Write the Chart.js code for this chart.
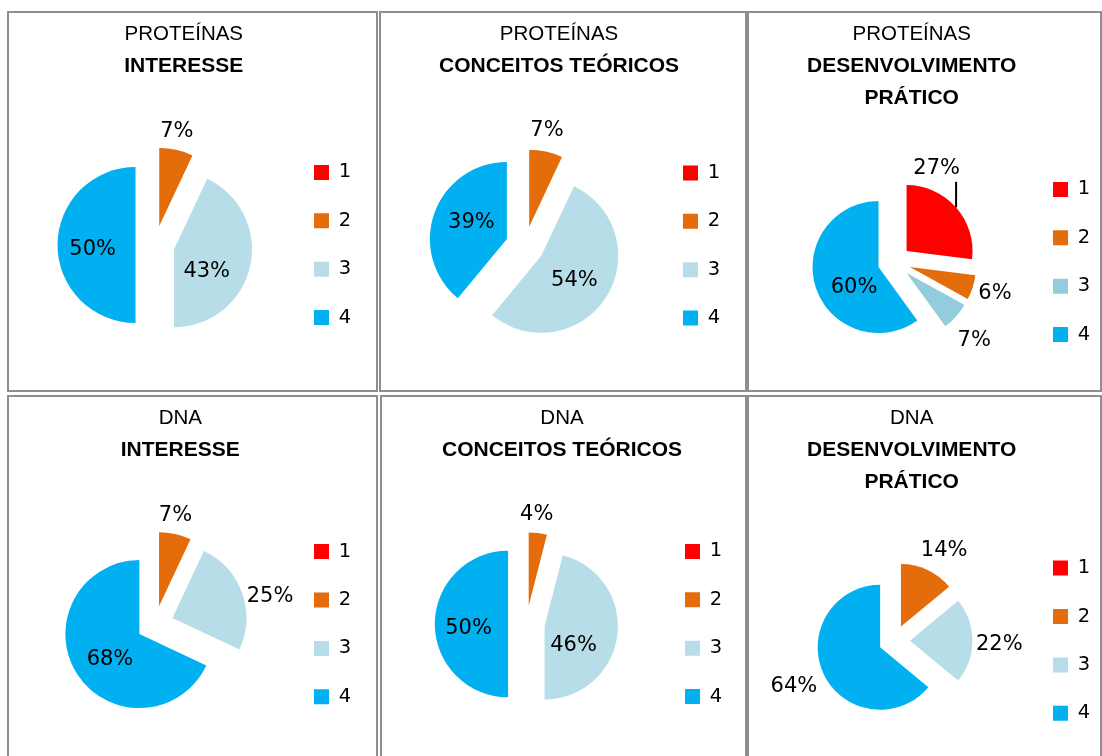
<!DOCTYPE html>
<html>
<head>
<meta charset="utf-8">
<script src="https://cdn.jsdelivr.net/npm/chart.js@4.4.1/dist/chart.umd.min.js"></script>
<style>
  body { margin: 0; width: 1102px; height: 756px; overflow: hidden; background: #fff; }
  .panel { position: absolute; box-sizing: border-box; border: 2px solid #8e8e8e; background: #fff; }
  .panel canvas { display: block; }
</style>
</head>
<body>
<script>
// legend categories
const sliceLabels = ['1', '2', '3', '4'];

// percentages per chart (slices 1..4)
const protInteresse = [0, 7, 43, 50];
const protConceitos = [0, 7, 54, 39];
const protDesenv = [27, 6, 7, 60];
const dnaInteresse = [0, 7, 25, 68];
const dnaConceitos = [0, 4, 46, 50];
const dnaDesenv = [0, 14, 22, 64];

const groupTitles = ['PROTEÍNAS', 'DNA'];
const aspectTitles = [['INTERESSE'], ['CONCEITOS TEÓRICOS'], ['DESENVOLVIMENTO', 'PRÁTICO']];

const sliceColors = ['#FF0000', '#E46C0A', '#B7DEE8', '#00B0F0'];
const sliceColorsDark = ['#FF0000', '#E46C0A', '#93CDDD', '#00B0F0'];

// label placement per slice: [radius factor, angle shift in deg, leader line]
const panels = [
  { data: protInteresse, group: 0, aspect: 0, colors: sliceColors, box: [7, 11, 371, 381],
    cx: 146, cy: 232, r: 78, legendX: 305, bottom: 360, titleX: 174.8,
    place: [null, [1.26, -2.3], [0.49, 18.6], [0.55, -2.3]] },
  { data: protConceitos, group: 0, aspect: 1, colors: sliceColors, box: [379, 11, 368, 381],
    cx: 144, cy: 232.5, r: 77, legendX: 302, bottom: 360, titleX: 178,
    place: [null, [1.30, -2.4], [0.52, 1.8], [0.52, 7.7]] },
  { data: protDesenv, group: 0, aspect: 2, colors: sliceColorsDark, box: [747, 11, 355, 381],
    cx: 145.2, cy: 249, r: 66, legendX: 304, bottom: 376, titleX: 162.7,
    place: [[1.37, -29.2, true], [1.34, -2.2], [1.42, 2.4], [0.46, -18.5]] },
  { data: dnaInteresse, group: 1, aspect: 0, colors: sliceColors, box: [7, 395, 371, 381],
    cx: 146, cy: 227.2, r: 74, legendX: 305, bottom: 355, titleX: 171.3,
    place: [null, [1.28, -2.6], [1.36, 5.9], [0.50, -5]] },
  { data: dnaConceitos, group: 1, aspect: 1, colors: sliceColors, box: [380, 395, 367, 381],
    cx: 144.4, cy: 227, r: 73.3, legendX: 303, bottom: 355, titleX: 180,
    place: [null, [1.28, -2.3], [0.46, 23.4], [0.54, -2.9]] },
  { data: dnaDesenv, group: 1, aspect: 2, colors: sliceColors, box: [747, 395, 355, 381],
    cx: 145.3, cy: 243.7, r: 62.5, legendX: 304, bottom: 376, titleX: 162.7,
    place: [null, [1.43, 3.7], [1.43, 0.8], [1.50, 2.1]] }
];

Chart.defaults.color = '#000';
Chart.defaults.font.family = '"Liberation Sans", Arial, sans-serif';

// Excel style exploded slices: push every slice out along its bisector
const explodePlugin = {
  id: 'explode',
  afterDatasetsUpdate(chart, args, opts) {
    const meta = chart.getDatasetMeta(0);
    meta.data.forEach(arc => {
      const mid = (arc.startAngle + arc.endAngle) / 2;
      const d = arc.outerRadius * (opts.ratio || 0);
      arc.x += Math.cos(mid) * d;
      arc.y += Math.sin(mid) * d;
    });
  }
};

// centre the title lines where the original has them
const titleCenterPlugin = {
  id: 'titleCenter',
  afterLayout(chart, args, opts) {
    chart.boxes.forEach(box => {
      if (box.position === 'top') {
        const shift = opts.x - (box.left + box.right) / 2;
        box.left += shift;
        box.right += shift;
      }
    });
  }
};

// percentage labels
const pctLabelPlugin = {
  id: 'pctLabels',
  afterDatasetsDraw(chart, args, opts) {
    const ctx = chart.ctx;
    const arcs = chart.getDatasetMeta(0).data;
    const values = chart.data.datasets[0].data;
    ctx.save();
    ctx.font = '21px "DejaVu Sans"';
    ctx.fillStyle = '#000';
    ctx.textAlign = 'center';
    ctx.textBaseline = 'alphabetic';
    arcs.forEach((arc, i) => {
      const place = opts.place[i];
      if (!values[i] || !place) return;
      const mid = (arc.startAngle + arc.endAngle) / 2;
      const a = mid + place[1] * Math.PI / 180;
      const lx = arc.x + Math.cos(a) * place[0] * arc.outerRadius;
      const ly = arc.y + Math.sin(a) * place[0] * arc.outerRadius;
      const text = values[i] + '%';
      const m = ctx.measureText(text);
      ctx.fillText(text, lx, ly + (m.actualBoundingBoxAscent - m.actualBoundingBoxDescent) / 2);
      if (place[2]) {
        const ex = arc.x + Math.cos(mid) * arc.outerRadius;
        const ey = arc.y + Math.sin(mid) * arc.outerRadius;
        ctx.beginPath();
        ctx.moveTo(ex, ey);
        ctx.lineTo(ex, ly + 16);
        ctx.lineWidth = 2;
        ctx.strokeStyle = '#000';
        ctx.stroke();
      }
    });
    ctx.restore();
  }
};

const legendFont = 19.5;
const legendPad = 48.4 - legendFont;
// box + gap + widest digit, plus the 10px chart.js adds to a side legend
const legendColW = 15 + legendFont / 2 + 0.636 * legendFont + 10;

function makePanel(p) {
  const div = document.createElement('div');
  div.className = 'panel';
  div.style.left = p.box[0] + 'px';
  div.style.top = p.box[1] + 'px';
  div.style.width = p.box[2] + 'px';
  div.style.height = p.box[3] + 'px';
  const canvas = document.createElement('canvas');
  const W = p.box[2] - 4;
  const H = p.box[3] - 4;
  canvas.width = W;
  canvas.height = H;
  div.appendChild(canvas);
  document.body.appendChild(div);

  // chart area is centred on the pie centre
  const areaRight = p.legendX - legendPad;
  const padLeft = 2 * p.cx - areaRight;
  const padRight = W - p.legendX - legendColW;
  const areaTop = 2 * p.cy - p.bottom;
  const subLines = aspectTitles[p.aspect].length;
  const subPadBottom = areaTop - 37.5 - 32 * subLines;

  new Chart(canvas, {
    type: 'pie',
    data: {
      labels: sliceLabels,
      datasets: [{
        data: p.data,
        backgroundColor: p.colors,
        borderColor: p.colors,
        borderWidth: 0,
        radius: p.r
      }]
    },
    options: {
      responsive: false,
      animation: false,
      devicePixelRatio: 1,
      layout: { padding: { left: padLeft, right: padRight, top: 0, bottom: H - p.bottom } },
      plugins: {
        title: {
          display: true,
          text: groupTitles[p.group],
          font: { size: 20.5, weight: 'normal', lineHeight: '32px' },
          padding: { top: 5, bottom: 0.5 }
        },
        subtitle: {
          display: true,
          text: aspectTitles[p.aspect],
          color: '#000',
          font: { size: 21, weight: 'bold', lineHeight: '32px' },
          padding: { top: 0, bottom: subPadBottom }
        },
        legend: {
          position: 'right',
          fullSize: false,
          labels: {
            boxWidth: 15,
            boxHeight: 15,
            padding: legendPad,
            color: '#000',
            font: { family: '"DejaVu Sans", sans-serif', size: legendFont }
          }
        },
        tooltip: { enabled: false },
        explode: { ratio: 0.25 },
        titleCenter: { x: p.titleX },
        pctLabels: { place: p.place }
      }
    },
    plugins: [explodePlugin, titleCenterPlugin, pctLabelPlugin]
  });
}

panels.forEach(makePanel);
</script>
</body>
</html>
